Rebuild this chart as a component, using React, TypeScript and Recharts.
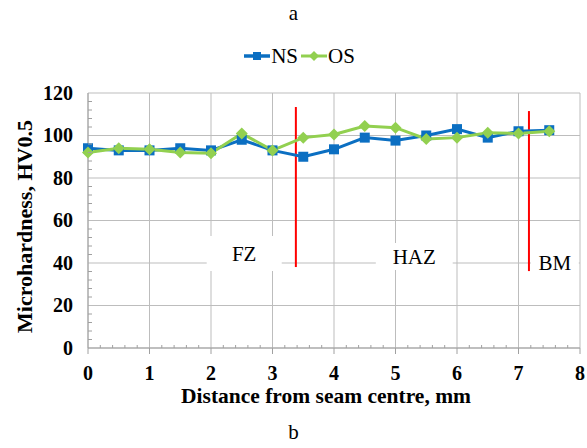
import React from 'react';
import {
  LineChart,
  Line,
  XAxis,
  YAxis,
  CartesianGrid,
  Legend,
  ReferenceArea,
  ReferenceLine,
} from 'recharts';

const distance = [0, 0.5, 1, 1.5, 2, 2.5, 3, 3.5, 4, 4.5, 5, 5.5, 6, 6.5, 7, 7.5];
const nsValues = [94, 93, 93, 94, 93, 98, 93, 90, 93.5, 99, 97.6, 100, 103, 99, 102, 102.5];
const osValues = [92, 94, 93.5, 92, 91.6, 101, 93, 99, 100.5, 104.5, 103.7, 98.4, 99, 101.3, 101, 102];

const xMajorTicks = [0, 1, 2, 3, 4, 5, 6, 7, 8];
const yMajorTicks = [0, 20, 40, 60, 80, 100, 120];
// minor ticks: every 0.2 mm on x, every 4 HV on y
const xAllTicks = Array.from({ length: 41 }, (_, i) => i / 5);
const yAllTicks = Array.from({ length: 31 }, (_, i) => i * 4);

const zoneLabels = ['FZ', 'HAZ', 'BM'];
const zoneBoxes = [
  { x1: 1.93, x2: 3.15, y1: 36.2, y2: 52.7 },
  { x1: 4.68, x2: 5.93, y1: 36.7, y2: 49.4 },
  { x1: 7.2, x2: 7.98, y1: 32, y2: 48 },
];
const boundaries = [
  { x: 3.38, y1: 38.1, y2: 113.4 },
  { x: 7.17, y1: 36.2, y2: 111.5 },
];

const data = distance.map((d, i) => ({ d, NS: nsValues[i], OS: osValues[i] }));

const FONT = "'Liberation Serif', 'Times New Roman', serif";
const BLUE = '#0b6fc2';
const GREEN = '#92d050';
const AXIS = '#a0a0a0';
const GRID = '#bdbdbd';
const X_MARGIN = 18;
const Y_MARGIN = 15;

const isWhole = (v: number, step: number) => Math.abs(v / step - Math.round(v / step)) < 1e-6;

const XTick = (props: any) => {
  const { x, y, payload } = props;
  const v = payload.value;
  const ay = y - X_MARGIN;
  if (!isWhole(v, 1)) {
    return <line x1={x} x2={x} y1={ay} y2={ay - 3} stroke={AXIS} />;
  }
  return (
    <g>
      <line x1={x} x2={x} y1={ay} y2={ay + 6} stroke={AXIS} />
      <text x={x} y={y} dy="0.68em" textAnchor="middle" fontFamily={FONT} fontWeight="bold" fontSize={20} fill="#000">
        {Math.round(v)}
      </text>
    </g>
  );
};

const YTick = (props: any) => {
  const { x, y, payload } = props;
  const v = payload.value;
  const ax = x + Y_MARGIN;
  if (!isWhole(v, 20)) {
    return <line x1={ax} x2={ax + 4} y1={y} y2={y} stroke={AXIS} />;
  }
  return (
    <text x={x} y={y} dy="0.34em" textAnchor="end" fontFamily={FONT} fontWeight="bold" fontSize={20} fill="#000">
      {Math.round(v)}
    </text>
  );
};

const SquareDot = (props: any) => {
  const { cx, cy } = props;
  if (cx == null || cy == null) return null;
  return <rect x={cx - 5} y={cy - 5} width={10} height={10} fill={BLUE} />;
};

const DiamondDot = (props: any) => {
  const { cx, cy } = props;
  if (cx == null || cy == null) return null;
  const r = 6;
  return <polygon points={`${cx},${cy - r} ${cx + r},${cy} ${cx},${cy + r} ${cx - r},${cy}`} fill={GREEN} />;
};

const renderLegend = () => (
  <div
    style={{
      display: 'flex',
      justifyContent: 'center',
      alignItems: 'center',
      fontFamily: FONT,
      fontSize: 21,
      lineHeight: '24px',
      color: '#000',
    }}
  >
    <svg width={26} height={14} style={{ marginRight: 1 }}>
      <line x1={0} x2={26} y1={7} y2={7} stroke={BLUE} strokeWidth={3.5} />
      <rect x={9} y={3} width={8} height={8} fill={BLUE} />
    </svg>
    <span style={{ marginRight: 3 }}>NS</span>
    <svg width={26} height={14} style={{ marginRight: 1 }}>
      <line x1={0} x2={26} y1={7} y2={7} stroke={GREEN} strokeWidth={3} />
      <polygon points="13,2 18,7 13,12 8,7" fill={GREEN} />
    </svg>
    <span>OS</span>
  </div>
);

export default function App() {
  return (
    <div style={{ position: 'absolute', left: 0, top: 0, width: 587, height: 448, background: '#fff' }}>
      <div
        style={{
          position: 'absolute',
          top: 1,
          left: 0,
          width: 587,
          textAlign: 'center',
          fontFamily: FONT,
          fontSize: 21,
        }}
      >
        a
      </div>
      <LineChart width={587} height={448} data={data} margin={{ top: 93, right: 7, bottom: 0, left: 0 }}>
        <CartesianGrid stroke={GRID} horizontalValues={yMajorTicks} verticalValues={xMajorTicks} />
        {zoneBoxes.map((b, i) => (
          <ReferenceArea
            key={zoneLabels[i]}
            x1={b.x1}
            x2={b.x2}
            y1={b.y1}
            y2={b.y2}
            fill="#fff"
            fillOpacity={1}
            stroke="none"
            label={{ value: zoneLabels[i], position: 'center', fontFamily: FONT, fontSize: 21, fill: '#000' }}
          />
        ))}
        <XAxis
          dataKey="d"
          type="number"
          domain={[0, 8]}
          ticks={xAllTicks}
          interval={0}
          tickSize={0}
          tickMargin={X_MARGIN}
          tickLine={false}
          tick={<XTick />}
          axisLine={{ stroke: AXIS }}
          height={100}
          label={({ viewBox }: any) => (
            <text
              x={viewBox.x + viewBox.width / 2 - 8}
              y={viewBox.y + 55}
              textAnchor="middle"
              fontFamily={FONT}
              fontWeight="bold"
              fontSize={21.5}
              fill="#000"
            >
              Distance from seam centre, mm
            </text>
          )}
        />
        <YAxis
          type="number"
          domain={[0, 120]}
          ticks={yAllTicks}
          interval={0}
          tickSize={0}
          tickMargin={Y_MARGIN}
          tickLine={false}
          tick={<YTick />}
          axisLine={{ stroke: AXIS }}
          width={88}
          label={({ viewBox }: any) => {
            const cy = viewBox.y + viewBox.height / 2 + 6;
            return (
              <text
                x={24}
                y={cy}
                transform={`rotate(-90 24 ${cy})`}
                textAnchor="middle"
                dominantBaseline="central"
                fontFamily={FONT}
                fontWeight="bold"
                fontSize={22}
                fill="#000"
              >
                Microhardness, HV0.5
              </text>
            );
          }}
        />
        {boundaries.map((b, i) => (
          <ReferenceLine
            key={i}
            segment={[
              { x: b.x, y: b.y1 },
              { x: b.x, y: b.y2 },
            ]}
            stroke="#ff0000"
            strokeWidth={2}
          />
        ))}
        <Legend
          verticalAlign="middle"
          align="center"
          width={587}
          wrapperStyle={{ top: 44, left: 6 }}
          content={renderLegend}
        />
        <Line
          dataKey="NS"
          stroke={BLUE}
          strokeWidth={3}
          dot={<SquareDot />}
          activeDot={false}
          isAnimationActive={false}
        />
        <Line
          dataKey="OS"
          stroke={GREEN}
          strokeWidth={3}
          dot={<DiamondDot />}
          activeDot={false}
          isAnimationActive={false}
        />
      </LineChart>
      <div
        style={{
          position: 'absolute',
          top: 420,
          left: 0,
          width: 587,
          textAlign: 'center',
          fontFamily: FONT,
          fontSize: 21,
        }}
      >
        b
      </div>
    </div>
  );
}
